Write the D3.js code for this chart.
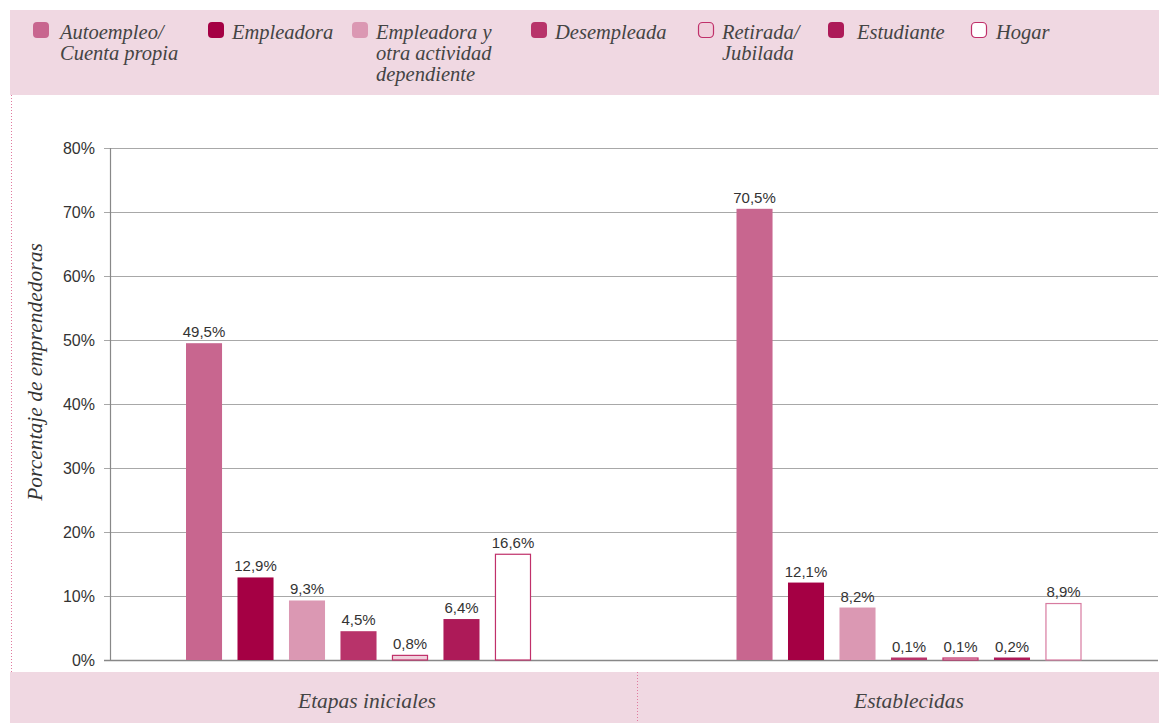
<!DOCTYPE html>
<html>
<head>
<meta charset="utf-8">
<script src="https://cdn.jsdelivr.net/npm/d3@7"></script>
<style>
	body { margin: 0; background: #fff; }
	svg { display: block; }
</style>
</head>
<body>
<svg width="1159" height="723"></svg>
<script>
(function () {
	var groups = ['Etapas iniciales', 'Establecidas'],

		series = ['Autoempleo/ Cuenta propia', 'Empleadora', 'Empleadora y otra actividad dependiente',
			'Desempleada', 'Retirada/ Jubilada', 'Estudiante', 'Hogar'],

		legendLines = [['Autoempleo/', 'Cuenta propia'], ['Empleadora'], ['Empleadora  y', 'otra actividad', 'dependiente'],
			['Desempleada'], ['Retirada/', 'Jubilada'], ['Estudiante'], ['Hogar']],

		etapas = [49.5, 12.9, 9.3, 4.5, 0.8, 6.4, 16.6],
		establecidas = [70.5, 12.1, 8.2, 0.1, 0.1, 0.2, 8.9],

		yTicks = [0, 10, 20, 30, 40, 50, 60, 70, 80],

		fills = ['#c8668f', '#a50044', '#db98b3', '#b8336a', '#f0d0dc', '#ad1a58', '#ffffff'],
		strokes = [null, null, null, null, '#c0306a', null, '#c0306a'],

		legendX = [33, 208, 352, 531, 698, 828, 971],
		legendGap = [27, 24, 24, 24, 24, 29, 25],

		values = [etapas, establecidas],
		pink = '#f0d8e2',
		svg = d3.select('svg'),
		serif = '"Liberation Serif", "Times New Roman", serif',
		sans = '"Liberation Sans", Arial, sans-serif',

		y = d3.scaleLinear().domain([0, 80]).range([660, 148]),
		x0 = d3.scalePoint().domain(groups).range([358.5, 909]),
		x1 = d3.scaleBand().domain(series).range([-172.5, 172.5]).paddingInner(0.3).paddingOuter(0);

	// bands
	svg.append('rect').attr('x', 10).attr('y', 10).attr('width', 1149).attr('height', 85).attr('fill', pink);
	svg.append('rect').attr('x', 10).attr('y', 672).attr('width', 1149).attr('height', 51).attr('fill', pink);
	svg.append('line').attr('x1', 11.5).attr('x2', 11.5).attr('y1', 95).attr('y2', 672)
		.attr('stroke', '#e07a9e').attr('stroke-width', 1).attr('stroke-dasharray', '1,2');
	svg.append('line').attr('x1', 637.5).attr('x2', 637.5).attr('y1', 672).attr('y2', 723)
		.attr('stroke', '#e07a9e').attr('stroke-width', 1).attr('stroke-dasharray', '1,2');

	// legend
	var leg = svg.selectAll('g.leg').data(series).enter().append('g').attr('class', 'leg')
		.attr('transform', function (d, i) { return 'translate(' + legendX[i] + ',0)'; });
	leg.append('rect')
		.attr('x', function (d, i) { return strokes[i] ? 0.5 : 0; })
		.attr('y', function (d, i) { return strokes[i] ? 22.5 : 22; })
		.attr('width', function (d, i) { return strokes[i] ? 15 : 16; })
		.attr('height', function (d, i) { return strokes[i] ? 15 : 16; })
		.attr('rx', 4)
		.attr('fill', function (d, i) { return fills[i]; })
		.attr('stroke', function (d, i) { return strokes[i]; })
		.attr('stroke-width', 1.2);
	leg.each(function (d, i) {
		var t = d3.select(this).append('text')
			.attr('font-family', serif).attr('font-style', 'italic').attr('font-size', 20.5)
			.attr('fill', '#444');
		legendLines[i].forEach(function (l, k) {
			t.append('tspan').attr('x', legendGap[i]).attr('y', 39 + k * 21).text(l);
		});
	});

	// grid + y axis
	svg.selectAll('line.grid').data(yTicks).enter().append('line').attr('class', 'grid')
		.attr('x1', 104).attr('x2', 1158)
		.attr('y1', function (d) { return y(d) + 0.5; }).attr('y2', function (d) { return y(d) + 0.5; })
		.attr('stroke', function (d) { return d === 0 ? '#888' : '#a8a8a8'; })
		.attr('stroke-width', function (d) { return d === 0 ? 1.5 : 1.2; });
	svg.append('line').attr('x1', 110.5).attr('x2', 110.5).attr('y1', y(80)).attr('y2', y(0))
		.attr('stroke', '#888').attr('stroke-width', 1.2);
	svg.selectAll('text.tick').data(yTicks).enter().append('text').attr('class', 'tick')
		.attr('x', 95).attr('y', function (d) { return y(d) + 6; })
		.attr('text-anchor', 'end').attr('font-family', sans).attr('font-size', 16).attr('fill', '#333')
		.text(function (d) { return d + '%'; });

	svg.append('text')
		.attr('transform', 'translate(42,372) rotate(-90)')
		.attr('text-anchor', 'middle').attr('font-family', serif).attr('font-style', 'italic')
		.attr('font-size', 21.5).attr('fill', '#333')
		.text('Porcentaje de emprendedoras');

	// bars
	var g = svg.selectAll('g.grp').data(groups).enter().append('g').attr('class', 'grp')
		.attr('transform', function (d) { return 'translate(' + x0(d) + ',0)'; });

	g.selectAll('rect').data(function (d, gi) {
		return series.map(function (s, i) { return { s: s, i: i, v: values[gi][i], g: gi }; });
	}).enter().append('rect')
		.attr('x', function (d) { return x1(d.s) + (strokes[d.i] ? 0.5 : 0); })
		.attr('width', function (d) { return x1.bandwidth() - (strokes[d.i] ? 1 : 0); })
		.attr('y', function (d) { return Math.min(y(d.v), y(0) - 2.5) + (strokes[d.i] ? 0.5 : 0); })
		.attr('height', function (d) { return Math.max(y(0) - y(d.v), 2.5) - (strokes[d.i] ? 0.5 : 0); })
		.attr('fill', function (d) { return fills[d.i]; })
		.attr('stroke', function (d) { return strokes[d.i] && (d.g === 1 && d.i === 6 ? '#d77ba0' : strokes[d.i]); })
		.attr('stroke-width', 1.2);

	g.selectAll('text.val').data(function (d, gi) {
		return series.map(function (s, i) { return { s: s, i: i, v: values[gi][i] }; });
	}).enter().append('text').attr('class', 'val')
		.attr('x', function (d) { return x1(d.s) + x1.bandwidth() / 2; })
		.attr('y', function (d) { return Math.min(y(d.v), y(0) - 2.5) - 6; })
		.attr('text-anchor', 'middle').attr('font-family', sans).attr('font-size', 15).attr('fill', '#333')
		.text(function (d) { return d3.format('.1f')(d.v).replace('.', ',') + '%'; });

	// category labels
	svg.selectAll('text.cat').data(groups).enter().append('text').attr('class', 'cat')
		.attr('x', function (d, i) { return i === 0 ? 367 : 909; }).attr('y', 708)
		.attr('text-anchor', 'middle').attr('font-family', serif).attr('font-style', 'italic')
		.attr('font-size', 21.5).attr('fill', '#444')
		.text(function (d) { return d; });
})();
</script>
</body>
</html>
